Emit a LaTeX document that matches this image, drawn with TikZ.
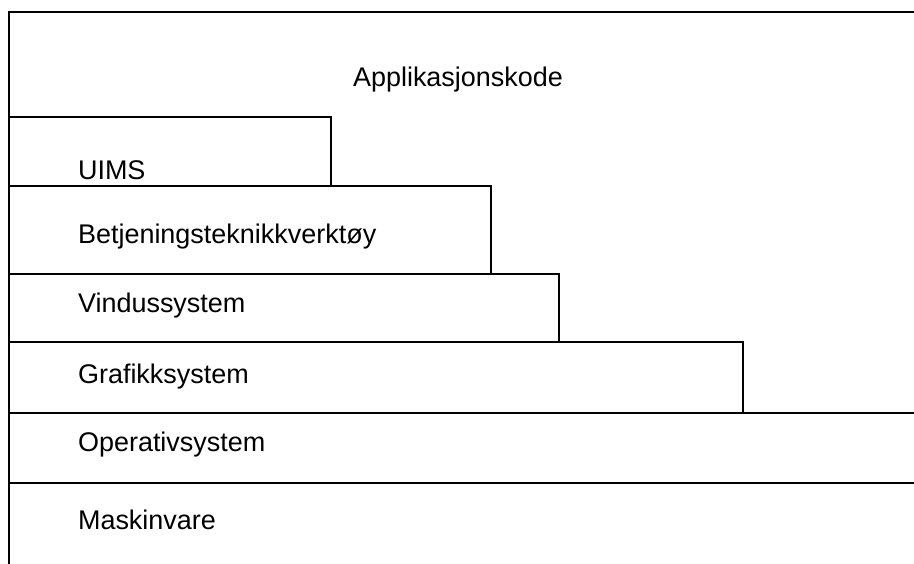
\documentclass[tikz,border=0pt]{standalone}
\usepackage{fontspec}
\setmainfont{Liberation Sans}
\usetikzlibrary{positioning}

\begin{document}
\begin{tikzpicture}[x=0.02cm,y=-0.02cm,line width=1.2pt,
        layer/.style={anchor=west,inner sep=0pt,font=\fontsize{15.35}{18}\selectfont}]
        \useasboundingbox (0,0) rectangle (914,564);
        % outer frame, open to the right and below
        \draw (9,564) -- (9,12) -- (914,12);
        % stepped layers
        \draw (9,117) -| (331,186);
        \draw (9,186) -| (491,274);
        \draw (9,274) -| (559,342);
        \draw (9,342) -| (743,413) -- (914,413);
        \draw (9,413) -- (743,413);
        \draw (9,483) -- (914,483);
        \node[layer,anchor=center] (app) at (458,80) {Applikasjonskode};
        \node[layer] (uims) at (77,170) {UIMS};
        \node[layer] (betj) at (77,237) {Betjeningsteknikkverktøy};
        \node[layer] (vind) at (77,306) {Vindussystem};
        \node[layer] (graf) at (77,377) {Grafikksystem};
        \node[layer] (os) at (77,445) {Operativsystem};
        \node[layer] (hw) at (77,520) {Maskinvare};
\end{tikzpicture}
\end{document}
